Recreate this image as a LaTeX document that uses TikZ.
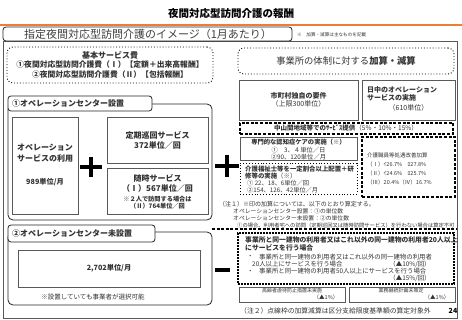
\documentclass[tikz,border=0pt]{standalone}
\usepackage{fontspec}
\setmainfont{Noto Sans CJK JP}
\usetikzlibrary{fit}
\definecolor{txt}{HTML}{333333}
\definecolor{bord}{HTML}{595959}
\definecolor{orng}{HTML}{ED7D31}
\newcommand\fsz[1]{\fontsize{#1}{#1}\selectfont}
\tikzset{
  sbox/.style={draw=bord, line width=0.7pt, inner sep=0pt, fill=white},
  dashbox/.style={draw=black, line width=1.1pt, dash pattern=on 3pt off 1.6pt, inner sep=0pt},
  dotbox/.style={draw=black, line width=0.9pt, dotted, inner sep=0pt},
  frm/.style={draw=black!85, line width=0.8pt, rounded corners=5pt, inner sep=0pt, fill=white},
  tabbox/.style={draw=black!85, line width=0.8pt, rounded corners=3pt, inner sep=0pt, fill=white},
  lbl/.style={inner sep=0pt, text=txt},
  opsign/.style={line width=4.5pt, draw=black},
  dline/.style={draw=black, line width=1.1pt, dash pattern=on 3pt off 1.6pt}
}
\begin{document}
\begin{tikzpicture}[x=1pt,y=-1pt]
\useasboundingbox (0,0) rectangle (462,320);
% title
\node[lbl, text=black, font=\fsz{10.5}\bfseries] (title) at (231,14) {夜間対応型訪問介護の報酬};
\coordinate (ol) at (0,25); \coordinate (or) at (462,25);
\draw[orng, line width=1.3pt] (ol) -- (or);
% outer frame and tab
\node[draw=bord, line width=0.7pt, inner sep=0pt, fit={(3,41)(457,318)}] (outer) {};
\node[tabbox, fit={(3,27)(292,41)}] (maintab) {};
\node[lbl, text=black!75, font=\fsz{11}] (maintabt) at (148,34) {指定夜間対応型訪問介護のイメージ（1月あたり）};
\node[lbl, anchor=west, font=\fsz{4.6}] (note0) at (297,35) {※　加算・減算は主なものを記載};
% base service
\node[dotbox, rounded corners=6pt, fit={(7,47)(213,83)}] (base) {};
\node[lbl, font=\fsz{8}\bfseries] (base1) at (110,55) {基本サービス費};
\node[lbl, font=\fsz{7.8}\bfseries] (base2) at (110,65) {①夜間対応型訪問介護費（Ⅰ）【定額＋出来高報酬】};
\node[lbl, font=\fsz{7.8}\bfseries] (base3) at (110,75) {②夜間対応型訪問介護費（Ⅱ）【包括報酬】};
% right header
\node[dotbox, rounded corners=6pt, fit={(238,48)(454,74)}] (addhdr) {};
\node[lbl, font=\fsz{9.3}] (addhdrt) at (346,61) {事業所の体制に対する\textbf{加算・減算}};
% frame 1
\node[frm, fit={(8,104)(212,220)}] (f1) {};
\node[tabbox, fit={(8,96)(152,111)}] (tab1) {};
\node[lbl, anchor=west, font=\fsz{8}\bfseries] (tab1t) at (12,103.5) {①オペレーションセンター設置};
\node[sbox, fit={(12,117)(78,214)}] (opuse) {};
\node[lbl, font=\fsz{8}\bfseries] (opuse1) at (45,148) {オペレーション};
\node[lbl, font=\fsz{8}\bfseries] (opuse2) at (45,158) {サービスの利用};
\node[lbl, font=\fsz{7.2}\bfseries] (opuse3) at (45,182) {989単位/月};
\node[sbox, fit={(107,117)(208,163)}] (teiki) {};
\node[lbl, font=\fsz{8}\bfseries] (teiki1) at (157.5,135) {定期巡回サービス};
\node[lbl, font=\fsz{8}\bfseries] (teiki2) at (157.5,145) {372単位／回};
\node[sbox, fit={(107,168)(208,214)}] (zuiji) {};
\node[lbl, font=\fsz{8}\bfseries] (zuiji1) at (157.5,178) {随時サービス};
\node[lbl, font=\fsz{8}\bfseries] (zuiji2) at (157.5,188) {（Ⅰ）567単位／回};
\node[lbl, font=\fsz{6.2}\bfseries] (zuiji3) at (157.5,199) {※２人で訪問する場合は};
\node[lbl, font=\fsz{6.2}\bfseries] (zuiji4) at (157.5,206.5) {（Ⅱ）764単位／回};
\draw[opsign] (80,167) -- (102,167);
\draw[opsign] (91,157) -- (91,177);
\draw[opsign] (215,166) -- (239,166);
\draw[opsign] (227,155) -- (227,177);
% frame 2
\node[frm, fit={(8,232)(212,305)}] (f2) {};
\node[tabbox, fit={(8,225)(155,242)}] (tab2) {};
\node[lbl, anchor=west, font=\fsz{8}\bfseries] (tab2t) at (12,233.5) {②オペレーションセンター未設置};
\node[sbox, fit={(18,250)(200,287)}] (pkg) {};
\node[lbl, font=\fsz{7.2}\bfseries] (pkgt) at (109,268) {2,702単位/月};
\node[lbl, font=\fsz{6.5}] (pkgn) at (93,297) {※設置していても事業者が選択可能};
\draw[opsign, line width=4pt] (215,270) -- (230,270);
% right side boxes
\node[sbox, fit={(239,80)(358,120)}] (muni) {};
\node[lbl, font=\fsz{7}\bfseries] (muni1) at (298.5,96) {市町村独自の要件};
\node[lbl, font=\fsz{7}] (muni2) at (298.5,104) {（上限300単位）};
\node[sbox, fit={(362,80)(455,120)}] (day) {};
\node[lbl, anchor=west, font=\fsz{7}\bfseries] (day1) at (367,90) {日中のオペレーション};
\node[lbl, anchor=west, font=\fsz{7}\bfseries] (day2) at (367,98) {サービスの実施};
\node[lbl, font=\fsz{7}] (day3) at (408.5,108) {（610単位）};
\node[dashbox, fit={(240,123)(453,134)}] (mtn) {};
\node[lbl, font=\fsz{6.5}] (mtnt) at (346,128.5) {\textbf{中山間地域等でのｻｰﾋﾞｽ提供}（5％・10\%・15\%）};
\node[sbox, fit={(240,137)(357,160)}] (dem) {};
\node[lbl, font=\fsz{6.3}\bfseries] (dem1) at (298.5,142.5) {専門的な認知症ケアの実施（※）};
\node[lbl, font=\fsz{6.3}] (dem2) at (298.5,150) {①　3、４単位／日};
\node[lbl, font=\fsz{6.3}] (dem3) at (298.5,157) {②90、120単位／月};
\node[dotbox, line width=0.8pt, fit={(240,163)(357,194)}] (wel) {};
\node[lbl, anchor=west, font=\fsz{6.4}\bfseries] (wel1) at (245,169.5) {介護福祉士等を一定割合以上配置＋研};
\node[lbl, anchor=west, font=\fsz{6.4}] (wel2) at (245,176.5) {\textbf{修等の実施}（※）};
\node[lbl, anchor=west, font=\fsz{6.2}] (wel3) at (247,183.5) {① 22、18、6単位／回};
\node[lbl, anchor=west, font=\fsz{6.2}] (wel4) at (247,190) {②154、126、42単位／月};
\node[dashbox, fit={(362,137)(455,197)}] (trt) {};
\node[lbl, anchor=west, font=\fsz{5.5}] (trt1) at (367,155) {介護職員等処遇改善加算};
\node[lbl, anchor=west, font=\fsz{5.5}] (trt2) at (367,164) {（Ⅰ）ｲ26.7\%　ﾛ27.8\%};
\node[lbl, anchor=west, font=\fsz{5.5}] (trt3) at (367,173) {（Ⅱ）ｲ24.6\%　ﾛ25.7\%};
\node[lbl, anchor=west, font=\fsz{5.5}] (trt4) at (367,182) {（Ⅲ）20.4\%（Ⅳ）16.7\%};
% notes
\node[lbl, anchor=west, font=\fsz{6}] (n1) at (219,204.5) {（注１）※印の加算については、以下のとおり算定する。};
\node[lbl, anchor=west, font=\fsz{5.8}] (n2) at (233,211.5) {オペレーションセンター設置：①の単位数};
\node[lbl, anchor=west, font=\fsz{5.8}] (n3) at (233,218.5) {オペレーションセンター未設置：②の単位数};
\node[lbl, anchor=west, font=\fsz{5.3}] (n4) at (237,225) {①の場合、利用者宅への訪問（定期巡回又は随時訪問サービス）を行わない場合は算定不可};
% reductions
\coordinate (dl) at (212,229); \coordinate (dr) at (457,229);
\draw[dline] (dl) -- (dr);
\node[draw=black, line width=1.2pt, dash pattern=on 2pt off 1pt, inner sep=0pt, fit={(238,233)(454,284)}] (same) {};
\node[lbl, anchor=west, font=\fsz{6.8}\bfseries] (s1) at (245,240) {事業所と同一建物の利用者又はこれ以外の同一建物の利用者20人以上};
\node[lbl, anchor=west, font=\fsz{6.8}\bfseries] (s2) at (245,248) {にサービスを行う場合};
\node[lbl, anchor=west, font=\fsz{6.4}] (s3a) at (247,257) {・};
\node[lbl, anchor=west, font=\fsz{6.4}] (s3) at (259,257) {事業所と同一建物の利用者又はこれ以外の同一建物の利用者};
\node[lbl, anchor=west, font=\fsz{6.4}] (s4) at (252,264.5) {20人以上にサービスを行う場合};
\node[lbl, font=\fsz{6.4}] (s4b) at (410,264.5) {（▲10\%/回）};
\node[lbl, anchor=west, font=\fsz{6.4}] (s5a) at (247,271.5) {・};
\node[lbl, anchor=west, font=\fsz{6.4}] (s5) at (259,271.5) {事業所と同一建物の利用者50人以上にサービスを行う場合};
\node[lbl, font=\fsz{6.4}] (s6) at (410,278.5) {（▲15\%/回）};
\node[sbox, fit={(239,287)(345,302)}] (abuse) {};
\node[lbl, font=\fsz{5}] (abuse1) at (292,290.5) {高齢者虐待防止措置未実施};
\node[lbl, font=\fsz{5.5}] (abuse2) at (326,297.5) {（▲1\%）};
\node[sbox, fit={(349,287)(455,302)}] (bcp) {};
\node[lbl, font=\fsz{5}] (bcp1) at (401,290.5) {業務継続計画未策定};
\node[lbl, font=\fsz{5.5}] (bcp2) at (437,297.5) {（▲1\%）};
\node[lbl, anchor=west, font=\fsz{6.8}] (n5) at (240,310.5) {（注２）点線枠の加算減算は区分支給限度基準額の算定対象外};
\node[lbl, text=black, font=\fsz{7}\bfseries] (pg) at (453,311) {24};
\end{tikzpicture}
\end{document}
